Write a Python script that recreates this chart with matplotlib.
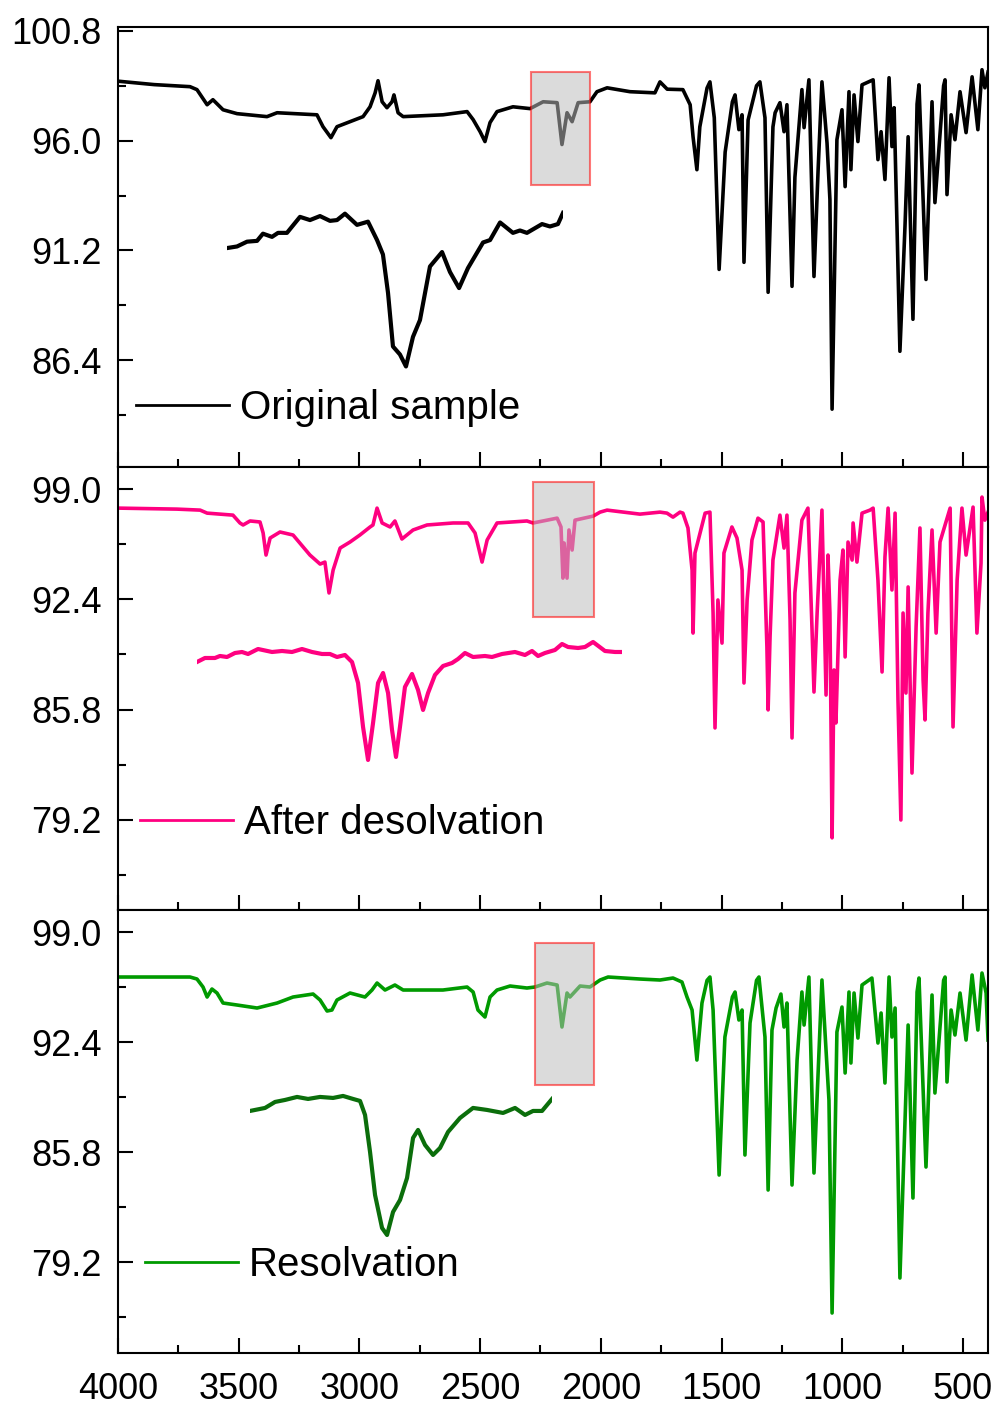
import matplotlib
matplotlib.use("Agg")
import matplotlib.pyplot as plt
from matplotlib.patches import Rectangle
from matplotlib.ticker import MultipleLocator

plt.rcParams['font.family'] = ['Liberation Sans', 'DejaVu Sans']

# ---- original sample (black) ----
orig_wn = [4000, 3850, 3702, 3673, 3631, 3607, 3565, 3507, 3383, 3341, 3176, 3151, 3118, 3093,
           2985, 2956, 2935, 2923, 2906, 2886, 2865, 2857, 2840, 2819, 2654, 2554, 2529, 2500,
           2480, 2459, 2430, 2364, 2293, 2239, 2181, 2161, 2140, 2119, 2094, 2045, 2016, 1974,
           1879, 1776, 1755, 1725, 1660, 1630, 1618, 1602, 1590, 1560, 1548, 1530, 1510, 1485,
           1455, 1444, 1428, 1415, 1407, 1390, 1355, 1341, 1320, 1307, 1287, 1278, 1258, 1241,
           1229, 1208, 1196, 1167, 1158, 1138, 1117, 1100, 1084, 1063, 1051, 1042, 1022, 1001,
           988, 972, 964, 951, 935, 918, 872, 852, 839, 823, 806, 794, 785, 773, 761, 740, 727,
           707, 690, 682, 653, 628, 616, 580, 574, 566, 549, 533, 512, 487, 462, 438, 421, 409, 396]
orig_t = [98.6, 98.45, 98.36, 98.23, 97.57, 97.79, 97.35, 97.18, 97.05, 97.22, 97.13, 96.61, 96.13, 96.61,
          97.05, 97.48, 98.09, 98.62, 97.70, 97.44, 97.70, 98.00, 97.22, 97.05, 97.13, 97.27, 96.92, 96.39,
          95.96, 96.79, 97.27, 97.48, 97.40, 97.70, 97.66, 95.83, 97.22, 96.83, 97.66, 97.70, 98.14, 98.31,
          98.14, 98.09, 98.57, 98.25, 98.23, 97.57, 96.17, 94.73, 96.6, 98.3, 98.57, 97.0, 90.37, 95.5,
          97.7, 98.00, 96.48, 97.13, 90.68, 96.9, 98.4, 98.57, 97.0, 89.37, 96.6, 97.22, 97.66, 96.39,
          97.57, 89.63, 94.4, 98.23, 96.57, 98.66, 90.06, 94.7, 98.57, 95.9, 93.43, 84.26, 96.04, 97.35,
          93.99, 98.14, 94.73, 98.00, 95.96, 98.44, 98.66, 95.17, 96.39, 94.30, 98.75, 95.74, 97.44, 92.25,
          86.79, 92.25, 96.17, 88.19, 97.6, 98.44, 89.93, 97.70, 93.29, 98.4, 98.66, 93.64, 97.13, 96.04,
          98.14, 96.35, 98.79, 96.48, 99.10, 98.31, 99.00]

# ---- after desolvation (pink) ----
desolv_wn = [4000, 3756, 3660, 3631, 3524, 3495, 3482, 3453, 3412, 3399, 3387, 3370, 3329, 3275,
             3205, 3163, 3143, 3126, 3109, 3080, 3039, 2998, 2956, 2944, 2927, 2906, 2873, 2853,
             2824, 2778, 2720, 2612, 2550, 2521, 2492, 2471, 2430, 2306, 2281, 2181, 2165, 2157,
             2152, 2140, 2132, 2119, 2107, 2032, 2003, 1974, 1838, 1755, 1726, 1701, 1672, 1660,
             1639, 1622, 1618, 1610, 1589, 1568, 1548, 1535, 1527, 1515, 1498, 1490, 1457, 1436,
             1415, 1407, 1394, 1374, 1349, 1328, 1312, 1307, 1299, 1287, 1258, 1241, 1229, 1216,
             1208, 1196, 1167, 1142, 1125, 1117, 1104, 1084, 1067, 1059, 1051, 1042, 1034, 1026,
             1009, 997, 988, 976, 959, 955, 939, 918, 885, 872, 852, 835, 823, 810, 794, 781, 769,
             757, 748, 736, 727, 711, 694, 678, 665, 657, 645, 628, 611, 595, 553, 541, 524, 504,
             487, 458, 442, 425, 421, 409, 396]
desolv_t = [97.86, 97.80, 97.74, 97.56, 97.44, 96.97, 96.85, 97.09, 97.03, 96.37, 95.05, 96.07, 96.43, 96.25,
            95.05, 94.51, 94.63, 92.78, 94.15, 95.47, 95.83, 96.25, 96.73, 96.85, 97.86, 96.97, 96.73, 97.09,
            96.01, 96.55, 96.85, 96.97, 96.97, 96.37, 94.63, 95.95, 96.97, 97.09, 96.97, 97.26, 96.73, 93.67,
            95.77, 93.67, 96.55, 95.35, 97.14, 97.38, 97.62, 97.74, 97.50, 97.62, 97.56, 97.32, 97.62, 97.56,
            96.67, 94.15, 90.38, 95.17, 96.37, 97.56, 97.62, 91.58, 84.70, 92.36, 89.78, 95.17, 96.73, 96.07,
            94.15, 87.39, 92.36, 95.95, 97.26, 97.03, 89.55, 85.78, 90.14, 94.75, 97.44, 95.47, 97.44, 91.16,
            84.10, 92.78, 97.14, 97.86, 90.56, 86.85, 91.58, 97.74, 86.67, 95.05, 91.58, 78.12, 88.17, 85.00,
            93.55, 95.35, 88.95, 95.83, 94.75, 96.97, 94.63, 97.56, 97.74, 97.86, 93.55, 88.05, 94.93, 97.86,
            92.96, 97.56, 86.37, 79.19, 91.58, 86.79, 93.14, 82.00, 90.74, 96.67, 87.57, 85.18, 91.58, 96.55,
            90.38, 95.83, 97.86, 84.76, 93.55, 97.86, 95.05, 97.92, 90.38, 94.57, 98.52, 97.14, 97.62]

# ---- resolvation (green) ----
resolv_wn = [4000, 3702, 3673, 3648, 3631, 3611, 3590, 3565, 3507, 3424, 3341, 3275, 3192, 3163,
             3134, 3114, 3093, 3039, 2977, 2948, 2927, 2894, 2853, 2819, 2654, 2554, 2529, 2509,
             2480, 2459, 2430, 2376, 2306, 2273, 2223, 2181, 2161, 2140, 2128, 2086, 2045, 2003,
             1970, 1838, 1755, 1701, 1664, 1643, 1622, 1602, 1581, 1560, 1548, 1535, 1510, 1486,
             1455, 1444, 1428, 1415, 1403, 1382, 1355, 1345, 1320, 1307, 1291, 1274, 1254, 1241,
             1229, 1208, 1187, 1167, 1158, 1138, 1117, 1084, 1055, 1042, 1022, 1001, 988, 972, 964,
             951, 935, 918, 877, 852, 839, 823, 806, 794, 781, 761, 727, 707, 690, 682, 653, 628,
             616, 580, 574, 566, 549, 533, 512, 487, 462, 438, 421, 404, 396]
resolv_t = [96.30, 96.30, 96.18, 95.70, 95.10, 95.58, 95.34, 94.74, 94.62, 94.44, 94.74, 95.10, 95.28, 94.92,
            94.26, 94.32, 94.92, 95.34, 95.10, 95.52, 95.94, 95.52, 95.82, 95.52, 95.52, 95.70, 95.40, 94.32,
            93.90, 95.10, 95.52, 95.76, 95.64, 95.70, 95.94, 95.82, 93.30, 95.34, 95.10, 95.76, 95.70, 96.12,
            96.30, 96.18, 96.12, 96.24, 96.00, 95.10, 94.32, 91.32, 94.74, 96.1, 96.30, 94.32, 84.42, 92.70,
            95.1, 95.40, 93.72, 94.32, 85.62, 93.54, 96.1, 96.30, 92.70, 83.52, 93.12, 94.44, 95.28, 93.30,
            94.74, 83.82, 91.32, 95.40, 93.42, 96.30, 84.54, 96.12, 88.92, 76.14, 93.00, 94.50, 90.54, 95.40,
            91.14, 95.34, 92.64, 95.82, 96.24, 92.34, 94.14, 89.94, 96.30, 92.70, 94.44, 78.24, 93.42, 83.04,
            95.4, 96.24, 84.90, 95.22, 89.34, 96.1, 96.30, 90.00, 94.32, 92.82, 95.34, 92.52, 96.42, 93.12,
            96.54, 95.34, 92.52]

# ---- zoomed insets of the ~2160 cm-1 band ----
inset1_wn = [2290.0, 2282.7, 2275.4, 2268.1, 2263.8, 2257.2, 2252.8, 2246.3, 2236.8, 2229.5, 2222.2,
             2214.9, 2209.8, 2204.0, 2195.2, 2187.2, 2180.6, 2176.3, 2172.6, 2169.0, 2163.9, 2159.5,
             2154.4, 2149.3, 2142.0, 2133.2, 2127.4, 2120.8, 2114.3, 2103.3, 2098.2, 2090.9, 2081.5,
             2076.4, 2071.3, 2060.3, 2054.5, 2048.7, 2045.0]
inset1_t = [97.46, 97.48, 97.54, 97.55, 97.64, 97.60, 97.65, 97.65, 97.85, 97.81, 97.86,
            97.80, 97.81, 97.89, 97.75, 97.79, 97.56, 97.38, 96.90, 96.23, 96.13, 95.98,
            96.35, 96.56, 97.23, 97.41, 97.16, 96.96, 97.21, 97.53, 97.56, 97.78, 97.65,
            97.68, 97.65, 97.76, 97.73, 97.76, 97.90]

inset2_wn = [2290.0, 2284.6, 2277.8, 2274.4, 2269.6, 2264.2, 2259.4, 2255.3, 2248.5, 2239.0, 2232.2,
             2225.4, 2218.6, 2211.8, 2205.0, 2199.6, 2194.8, 2189.4, 2184.6, 2180.5, 2177.1, 2173.7,
             2170.3, 2166.9, 2163.5, 2160.1, 2157.4, 2154.7, 2152.0, 2148.6, 2143.8, 2139.7, 2136.3,
             2132.9, 2128.2, 2122.7, 2116.6, 2112.5, 2107.8, 2102.3, 2094.2, 2089.4, 2082.6, 2073.8,
             2067.0, 2062.2, 2058.1, 2053.4, 2046.6, 2041.8, 2037.7, 2030.9, 2026.2, 2020.7, 2012.6,
             2005.8, 2001.0]
inset2_t = [97.20, 97.36, 97.36, 97.44, 97.40, 97.56, 97.60, 97.52, 97.72, 97.60, 97.64,
            97.60, 97.72, 97.60, 97.52, 97.52, 97.40, 97.48, 97.20, 96.36, 94.60, 93.28,
            94.76, 96.36, 96.76, 95.96, 94.48, 93.40, 94.60, 96.20, 96.72, 96.08, 95.28,
            95.96, 96.68, 97.04, 97.16, 97.32, 97.56, 97.40, 97.44, 97.40, 97.52, 97.60,
            97.48, 97.64, 97.44, 97.56, 97.68, 97.92, 97.80, 97.76, 97.80, 98.00, 97.64,
            97.60, 97.60]

inset3_wn = [2290.0, 2278.0, 2270.0, 2262.0, 2252.4, 2243.6, 2234.0, 2223.6, 2215.6, 2207.6, 2202.0,
             2198.0, 2194.0, 2190.0, 2184.4, 2180.4, 2175.6, 2170.0, 2164.4, 2159.6, 2155.6, 2150.0,
             2143.6, 2138.0, 2131.6, 2122.0, 2111.6, 2100.4, 2087.6, 2078.0, 2070.0, 2063.6, 2056.4,
             2048.4]
inset3_t = [97.40, 97.52, 97.76, 97.84, 97.96, 97.88, 97.96, 97.92, 98.00, 97.88, 97.80,
            97.24, 95.76, 94.04, 92.72, 92.44, 93.36, 93.84, 94.72, 96.32, 96.64, 96.04,
            95.64, 95.92, 96.56, 97.12, 97.52, 97.44, 97.32, 97.52, 97.24, 97.40, 97.40,
            97.88]

labels = ["Original sample", "After desolvation", "Resolvation"]
colors = ["black", "#ff0080", "#009a00"]
inset_colors = ["black", "#ff0080", "#0b6e0b"]

fig = plt.figure(figsize=(9.97, 14.05), dpi=100)

panels = [
    dict(pos=[0.1184, 0.6676, 0.8726, 0.3132], ylim=(81.73, 100.97), ymaj=4.8, ymin=2.4,
         wn=orig_wn, t=orig_t, box=(2289, 94.08, 2044.7, 99.01),
         ins_pos=[0.2277, 0.7295, 0.3370, 0.1281], ins_wn=inset1_wn, ins_t=inset1_t,
         ins_xlim=(2290, 2045), ins_ylim=(95.81, 98.06), leg=(0.0207, 0.133)),
    dict(pos=[0.1184, 0.3523, 0.8726, 0.3153], ylim=(73.8, 100.32), ymaj=6.6, ymin=3.3,
         wn=desolv_wn, t=desolv_t, box=(2280.8, 91.34, 2028.1, 99.42),
         ins_pos=[0.1976, 0.4520, 0.4263, 0.0996], ins_wn=inset2_wn, ins_t=inset2_t,
         ins_xlim=(2290, 2001), ins_ylim=(92.88, 98.48), leg=(0.0253, 0.196)),
    dict(pos=[0.1184, 0.0370, 0.8726, 0.3153], ylim=(73.74, 100.32), ymaj=6.6, ymin=3.3,
         wn=resolv_wn, t=resolv_t, box=(2272.6, 89.82, 2028.1, 98.34),
         ins_pos=[0.2508, 0.1139, 0.3029, 0.1139], ins_wn=inset3_wn, ins_t=inset3_t,
         ins_xlim=(2290, 2048.4), ins_ylim=(92.04, 98.44), leg=(0.031, 0.198)),
]

for i, p in enumerate(panels):
    ax = fig.add_axes(p['pos'])
    ax.plot(p['wn'], p['t'], color=colors[i], lw=2.6, label=labels[i], solid_joinstyle='round')
    ax.set_xlim(4000, 396)
    ax.set_ylim(*p['ylim'])
    ax.xaxis.set_major_locator(MultipleLocator(500))
    ax.xaxis.set_minor_locator(MultipleLocator(250))
    ax.yaxis.set_major_locator(MultipleLocator(p['ymaj']))
    ax.yaxis.set_minor_locator(MultipleLocator(p['ymin']))
    ax.tick_params(which='both', direction='in', width=1.5, labelsize=26)
    ax.tick_params(which='major', length=11)
    ax.tick_params(which='minor', length=6)
    ax.tick_params(axis='y', pad=12)
    ax.tick_params(axis='x', pad=14)
    if i < 2:
        ax.tick_params(axis='x', labelbottom=False)
    ax.yaxis.set_major_formatter(plt.FormatStrFormatter('%.1f'))
    for s in ax.spines.values():
        s.set_linewidth(1.5)

    x0, y0, x1, y1 = p['box']
    ax.add_patch(Rectangle((x1, y0), x0 - x1, y1 - y0, facecolor='#bcbcbc', edgecolor='red',
                           lw=1.5, alpha=0.53, zorder=5))

    leg = ax.legend(loc='center left', bbox_to_anchor=p['leg'], frameon=False, fontsize=29,
                    handlelength=2.3, handletextpad=0.28, borderpad=0, borderaxespad=0)
    for h in leg.get_lines():
        h.set_linewidth(2)

    ins = fig.add_axes(p['ins_pos'])
    ins.plot(p['ins_wn'], p['ins_t'], color=inset_colors[i], lw=3, solid_joinstyle='round')
    ins.set_xlim(*p['ins_xlim'])
    ins.set_ylim(*p['ins_ylim'])
    ins.axis('off')
    ins.patch.set_visible(False)

fig.savefig('out.png', dpi=100)
